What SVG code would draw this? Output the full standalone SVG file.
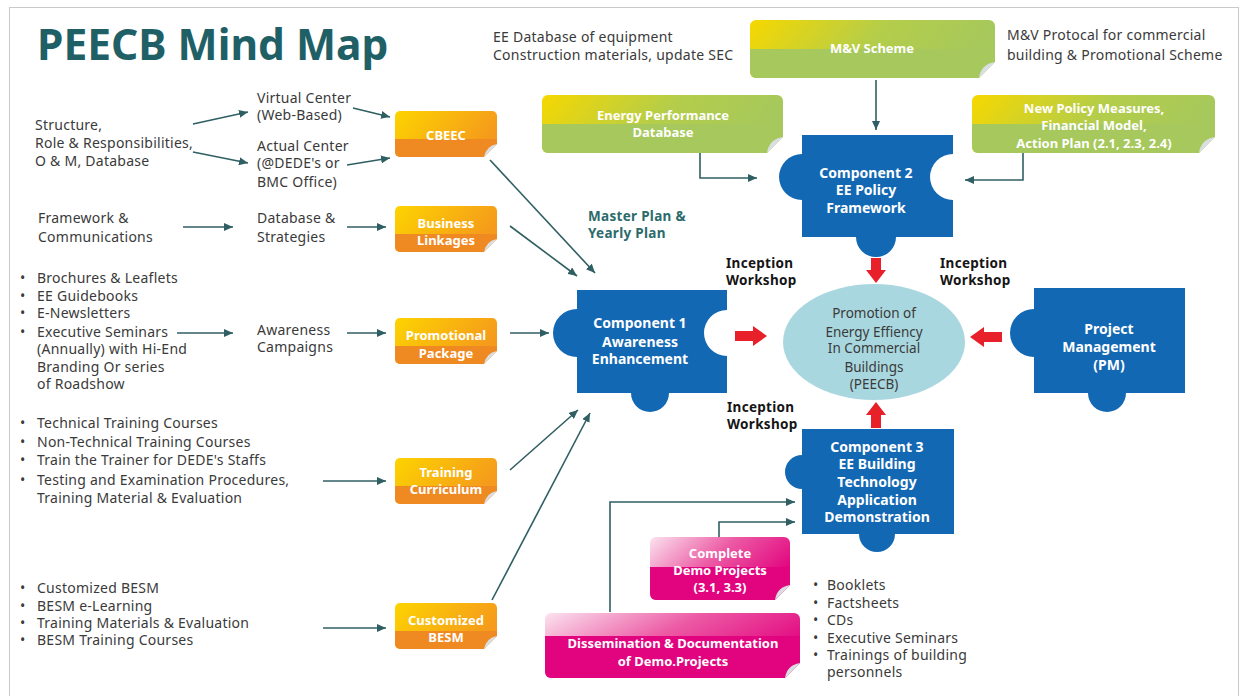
<svg xmlns="http://www.w3.org/2000/svg" width="1243" height="696" viewBox="0 0 1243 696">
<defs>
<style>
.t{font-family:"Noto Sans","Liberation Sans",sans-serif;font-size:14px;letter-spacing:0.25px;fill:#3a3a3a}
.w{font-family:"Noto Sans","Liberation Sans",sans-serif;font-weight:bold;font-size:13px;fill:#fff;text-anchor:middle}
.wb{font-family:"Noto Sans","Liberation Sans",sans-serif;font-weight:bold;font-size:14px;fill:#fff;text-anchor:middle}
.k{font-family:"Noto Sans","Liberation Sans",sans-serif;font-weight:bold;font-size:13.5px;letter-spacing:0.3px;fill:#151515}
.m{font-family:"Noto Sans","Liberation Sans",sans-serif;font-weight:bold;font-size:13.5px;letter-spacing:0.3px;fill:#2b6b6b}
.c{font-family:"Noto Sans","Liberation Sans",sans-serif;font-size:13.5px;fill:#3a3a3a;text-anchor:middle}
.ln{fill:none;stroke:#2f5f63;stroke-width:1.6;marker-end:url(#ah)}
.puz{fill:#1368b4}
.red{fill:#e8202a}
.cut{fill:#fff}
.flap{fill:#d9dee2}
.ob{fill:url(#og)}
.obd{fill:#ef8a22}
.gb{fill:url(#gg)}
.gbd{fill:#a6c85c}
.pb{fill:url(#pg)}
.pbd{fill:#e2047f}
</style>
<linearGradient id="og" x1="0" y1="0" x2="1" y2="0.4">
<stop offset="0" stop-color="#fdd400"/><stop offset="1" stop-color="#f59a1c"/>
</linearGradient>
<linearGradient id="gg" x1="0" y1="0" x2="1" y2="0.2">
<stop offset="0" stop-color="#f6d800"/><stop offset="0.55" stop-color="#b4cd4a"/><stop offset="1" stop-color="#a6c85c"/>
</linearGradient>
<linearGradient id="pg" x1="0" y1="0" x2="1" y2="0.5">
<stop offset="0" stop-color="#fbe3ef"/><stop offset="0.5" stop-color="#ec5aa4"/><stop offset="1" stop-color="#e2047f"/>
</linearGradient>
<marker id="ah" markerUnits="userSpaceOnUse" markerWidth="9" markerHeight="8" refX="9" refY="4" orient="auto">
<path d="M0,0 L9,4 L0,8 Z" fill="#2f5f63"/>
</marker>
</defs>

<rect x="0" y="0" width="1243" height="696" fill="#fff"/>
<rect x="9.5" y="7.5" width="1229" height="700" fill="none" stroke="#c9c9c9" stroke-width="1"/>

<text x="37" y="60" font-family="Noto Sans, Liberation Sans, sans-serif" font-weight="bold" font-size="42.5" fill="#1f6066">PEECB Mind Map</text>

<!-- top free texts -->
<g id="top-texts">
<text class="t" x="493" y="42">EE Database of equipment</text>
<text class="t" x="493" y="60">Construction materials, update SEC</text>
<text class="t" x="1007" y="40">M&amp;V Protocal for commercial</text>
<text class="t" x="1007" y="60">building &amp; Promotional Scheme</text>
</g>

<!-- left texts -->
<g id="structure">
<text class="t" x="35" y="130">Structure,</text>
<text class="t" x="35" y="148">Role &amp; Responsibilities,</text>
<text class="t" x="35" y="166">O &amp; M, Database</text>
</g>
<g id="centers">
<text class="t" x="257" y="103">Virtual Center</text>
<text class="t" x="257" y="120">(Web-Based)</text>
<text class="t" x="257" y="151">Actual Center</text>
<text class="t" x="257" y="168">(@DEDE's or</text>
<text class="t" x="257" y="187">BMC Office)</text>
</g>
<g id="framework">
<text class="t" x="38" y="223">Framework &amp;</text>
<text class="t" x="38" y="242">Communications</text>
</g>
<g id="database-strategies">
<text class="t" x="257" y="223">Database &amp;</text>
<text class="t" x="257" y="242">Strategies</text>
</g>
<g id="promo-list">
<text class="t" x="20" y="283">•</text><text class="t" x="37" y="283">Brochures &amp; Leaflets</text>
<text class="t" x="20" y="301">•</text><text class="t" x="37" y="301">EE Guidebooks</text>
<text class="t" x="20" y="318">•</text><text class="t" x="37" y="318">E-Newsletters</text>
<text class="t" x="20" y="337">•</text><text class="t" x="37" y="337">Executive Seminars</text>
<text class="t" x="37" y="354">(Annually) with Hi-End</text>
<text class="t" x="37" y="372">Branding Or series</text>
<text class="t" x="37" y="389">of Roadshow</text>
</g>
<g id="awareness">
<text class="t" x="257" y="335">Awareness</text>
<text class="t" x="257" y="352">Campaigns</text>
</g>
<g id="training-list">
<text class="t" x="20" y="428">•</text><text class="t" x="37" y="428">Technical Training Courses</text>
<text class="t" x="20" y="447">•</text><text class="t" x="37" y="447">Non-Technical Training Courses</text>
<text class="t" x="20" y="465">•</text><text class="t" x="37" y="465">Train the Trainer for DEDE's Staffs</text>
<text class="t" x="20" y="485">•</text><text class="t" x="37" y="485">Testing and Examination Procedures,</text>
<text class="t" x="37" y="503">Training Material &amp; Evaluation</text>
</g>
<g id="besm-list">
<text class="t" x="20" y="593">•</text><text class="t" x="37" y="593">Customized BESM</text>
<text class="t" x="20" y="611">•</text><text class="t" x="37" y="611">BESM e-Learning</text>
<text class="t" x="20" y="628">•</text><text class="t" x="37" y="628">Training Materials &amp; Evaluation</text>
<text class="t" x="20" y="645">•</text><text class="t" x="37" y="645">BESM Training Courses</text>
</g>

<!-- orange boxes -->
<g id="cbeec">
<rect class="ob" x="395" y="111" width="102" height="46" rx="5"/>
<path class="obd" d="M395,139 H497 V152 A5,5 0 0 1 492,157 H400 A5,5 0 0 1 395,152 Z"/>
<path class="cut" d="M484,157 L497,144 L497,157 Z"/><path class="flap" d="M484,157 Q486,146 497,144 Z"/>
<text class="w" x="446" y="140">CBEEC</text>
</g>
<g id="business-linkages">
<rect class="ob" x="395" y="206" width="102" height="46" rx="5"/>
<path class="obd" d="M395,234 H497 V247 A5,5 0 0 1 492,252 H400 A5,5 0 0 1 395,247 Z"/>
<path class="cut" d="M484,252 L497,239 L497,252 Z"/><path class="flap" d="M484,252 Q486,241 497,239 Z"/>
<text class="w" x="446" y="228">Business</text>
<text class="w" x="446" y="245">Linkages</text>
</g>
<g id="promotional-package">
<rect class="ob" x="395" y="318" width="102" height="46" rx="5"/>
<path class="obd" d="M395,346 H497 V359 A5,5 0 0 1 492,364 H400 A5,5 0 0 1 395,359 Z"/>
<path class="cut" d="M484,364 L497,351 L497,364 Z"/><path class="flap" d="M484,364 Q486,353 497,351 Z"/>
<text class="w" x="446" y="340">Promotional</text>
<text class="w" x="446" y="358">Package</text>
</g>
<g id="training-curriculum">
<rect class="ob" x="395" y="458" width="102" height="46" rx="5"/>
<path class="obd" d="M395,486 H497 V499 A5,5 0 0 1 492,504 H400 A5,5 0 0 1 395,499 Z"/>
<path class="cut" d="M484,504 L497,491 L497,504 Z"/><path class="flap" d="M484,504 Q486,493 497,491 Z"/>
<text class="w" x="446" y="477">Training</text>
<text class="w" x="446" y="494">Curriculum</text>
</g>
<g id="customized-besm">
<rect class="ob" x="395" y="603" width="102" height="46" rx="5"/>
<path class="obd" d="M395,631 H497 V644 A5,5 0 0 1 492,649 H400 A5,5 0 0 1 395,644 Z"/>
<path class="cut" d="M484,649 L497,636 L497,649 Z"/><path class="flap" d="M484,649 Q486,638 497,636 Z"/>
<text class="w" x="446" y="625">Customized</text>
<text class="w" x="446" y="642">BESM</text>
</g>

<!-- green boxes -->
<g id="mv-scheme">
<rect class="gb" x="750" y="20" width="245" height="58" rx="6"/>
<path class="gbd" d="M750,49 H995 V72 A6,6 0 0 1 989,78 H756 A6,6 0 0 1 750,72 Z"/>
<path class="cut" d="M979,78 L995,62 L995,78 Z"/><path class="flap" d="M979,78 Q981,64 995,62 Z"/>
<text class="w" x="872" y="53" font-size="13.5">M&amp;V Scheme</text>
</g>
<g id="energy-performance-db">
<rect class="gb" x="542" y="95" width="241" height="58" rx="6"/>
<path class="gbd" d="M542,124 H783 V147 A6,6 0 0 1 777,153 H548 A6,6 0 0 1 542,147 Z"/>
<path class="cut" d="M767,153 L783,137 L783,153 Z"/><path class="flap" d="M767,153 Q769,139 783,137 Z"/>
<text class="w" x="663" y="120" font-size="13.5">Energy Performance</text>
<text class="w" x="663" y="137" font-size="13.5">Database</text>
</g>
<g id="new-policy">
<rect class="gb" x="972" y="95" width="243" height="58" rx="6"/>
<path class="gbd" d="M972,124 H1215 V147 A6,6 0 0 1 1209,153 H978 A6,6 0 0 1 972,147 Z"/>
<path class="cut" d="M1199,153 L1215,137 L1215,153 Z"/><path class="flap" d="M1199,153 Q1201,139 1215,137 Z"/>
<text class="w" x="1094" y="113">New Policy Measures,</text>
<text class="w" x="1094" y="130">Financial Model,</text>
<text class="w" x="1094" y="148">Action Plan (2.1, 2.3, 2.4)</text>
</g>

<!-- pink boxes -->
<g id="complete-demo">
<rect class="pb" x="650" y="537" width="140" height="63" rx="6"/>
<path class="pbd" d="M650,567 H790 V594 A6,6 0 0 1 784,600 H656 A6,6 0 0 1 650,594 Z"/>
<path class="cut" d="M775,600 L790,585 L790,600 Z"/><path class="flap" d="M775,600 Q777,587 790,585 Z"/>
<text class="w" x="720" y="558" font-size="13.5">Complete</text>
<text class="w" x="720" y="575" font-size="13.5">Demo Projects</text>
<text class="w" x="720" y="592" font-size="13.5">(3.1, 3.3)</text>
</g>
<g id="dissemination">
<rect class="pb" x="545" y="613" width="255" height="65" rx="6"/>
<path class="pbd" d="M545,636 H800 V672 A6,6 0 0 1 794,678 H551 A6,6 0 0 1 545,672 Z"/>
<path class="cut" d="M785,678 L800,663 L800,678 Z"/><path class="flap" d="M785,678 Q787,665 800,663 Z"/>
<text class="w" x="673" y="648" font-size="13.5">Dissemination &amp; Documentation</text>
<text class="w" x="673" y="666" font-size="13.5">of Demo.Projects</text>
</g>

<!-- puzzle components -->
<g id="component1">
<path class="puz" d="M577,290 H727 V310 A23,23 0 0 0 727,356 V393 H669 A19,19 0 0 1 631,393 H577 V357 A24,24 0 0 1 577,309 Z"/>
<text class="wb" x="640" y="328">Component 1</text>
<text class="wb" x="640" y="347">Awareness</text>
<text class="wb" x="640" y="364">Enhancement</text>
</g>
<g id="component2">
<path class="puz" d="M802,135 H953 V154 A23,23 0 0 0 953,200 V237 H896 A20,20 0 0 1 856,237 H802 V200 A23,23 0 0 1 802,154 Z"/>
<text class="wb" x="866" y="178">Component 2</text>
<text class="wb" x="866" y="195">EE Policy</text>
<text class="wb" x="866" y="213">Framework</text>
</g>
<g id="project-management">
<path class="puz" d="M1034,288 H1185 V393 H1126 A19,19 0 0 1 1088,393 H1034 V357 A24,24 0 0 1 1034,309 Z"/>
<text class="wb" x="1109" y="334">Project</text>
<text class="wb" x="1109" y="352">Management</text>
<text class="wb" x="1109" y="370">(PM)</text>
</g>
<g id="component3">
<path class="puz" d="M802,429 H954 V534 H895 A18,18 0 0 1 859,534 H802 V489 A17,17 0 0 1 802,455 Z"/>
<text class="wb" x="877" y="452">Component 3</text>
<text class="wb" x="877" y="469">EE Building</text>
<text class="wb" x="877" y="487">Technology</text>
<text class="wb" x="877" y="505">Application</text>
<text class="wb" x="877" y="522">Demonstration</text>
</g>

<g id="peecb">
<ellipse cx="874" cy="342" rx="91" ry="58" fill="#a9d7df"/>
<text class="c" x="874" y="318">Promotion of</text>
<text class="c" x="874" y="337">Energy Effiency</text>
<text class="c" x="874" y="353">In Commercial</text>
<text class="c" x="874" y="372">Buildings</text>
<text class="c" x="874" y="389">(PEECB)</text>
</g>

<!-- labels -->
<g id="labels">
<text class="m" x="588" y="221">Master Plan &amp;</text>
<text class="m" x="588" y="238">Yearly Plan</text>
<text class="k" x="726" y="268">Inception</text>
<text class="k" x="726" y="285">Workshop</text>
<text class="k" x="940" y="268">Inception</text>
<text class="k" x="940" y="285">Workshop</text>
<text class="k" x="727" y="412">Inception</text>
<text class="k" x="727" y="429">Workshop</text>
</g>

<g id="dissemination-list">
<text class="t" x="813" y="590">•</text><text class="t" x="827" y="590">Booklets</text>
<text class="t" x="813" y="608">•</text><text class="t" x="827" y="608">Factsheets</text>
<text class="t" x="813" y="625">•</text><text class="t" x="827" y="625">CDs</text>
<text class="t" x="813" y="643">•</text><text class="t" x="827" y="643">Executive Seminars</text>
<text class="t" x="813" y="660">•</text><text class="t" x="827" y="660">Trainings of building</text>
<text class="t" x="827" y="677">personnels</text>
</g>

<!-- connectors -->
<g id="connectors">
<line class="ln" x1="193" y1="124" x2="248" y2="112"/>
<line class="ln" x1="193" y1="152" x2="248" y2="163"/>
<line class="ln" x1="353" y1="108" x2="390" y2="117"/>
<line class="ln" x1="347" y1="165" x2="390" y2="158"/>
<line class="ln" x1="183" y1="227" x2="233" y2="227"/>
<line class="ln" x1="347" y1="227" x2="386" y2="227"/>
<line class="ln" x1="177" y1="333" x2="233" y2="333"/>
<line class="ln" x1="347" y1="333" x2="386" y2="333"/>
<line class="ln" x1="323" y1="481" x2="386" y2="481"/>
<line class="ln" x1="323" y1="628" x2="386" y2="628"/>
<line class="ln" x1="490" y1="160" x2="595" y2="273"/>
<line class="ln" x1="510" y1="226" x2="577" y2="276"/>
<line class="ln" x1="510" y1="333" x2="549" y2="333"/>
<line class="ln" x1="510" y1="470" x2="578" y2="410"/>
<line class="ln" x1="492" y1="600" x2="590" y2="413"/>
<line class="ln" x1="876" y1="80" x2="876" y2="130"/>
<path class="ln" d="M700,153 V178 H757"/>
<path class="ln" d="M1023,153 V180 H965"/>
<path class="ln" d="M610,612 V502 H795"/>
<path class="ln" d="M719,537 V522 H795"/>
<polygon class="red" points="735,331 753,331 753,326 767,336 753,346 753,341 735,341"/>
<polygon class="red" points="1002,332 984,332 984,327 970,337 984,347 984,342 1002,342"/>
<polygon class="red" points="871,258 881,258 881,270 886,270 876,283 866,270 871,270"/>
<polygon class="red" points="876,402 886,415 881,415 881,428 871,428 871,415 866,415"/>
</g>
</svg>
